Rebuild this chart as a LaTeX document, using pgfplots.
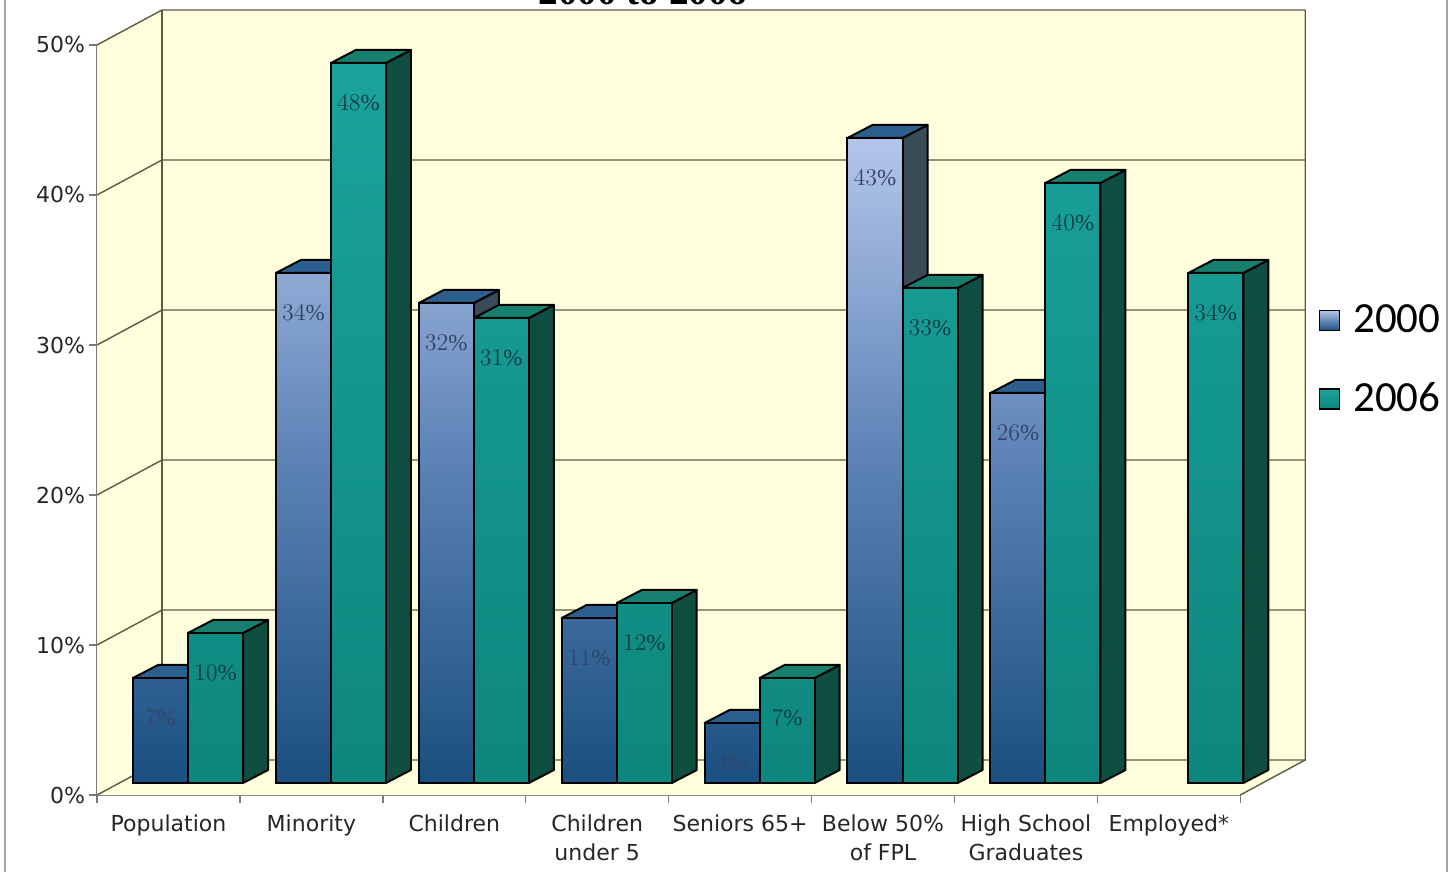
\documentclass[border=0pt]{standalone}
\usepackage{pgfplots}
\pgfplotsset{compat=1.18}
\usepackage{pgfplotstable}
\usepackage{fontspec}
\setmainfont{DejaVu Sans}
\newfontfamily\legendfont{Carlito}
\newfontfamily\valuefont{Liberation Serif}

\definecolor{wall}{HTML}{FFFFDE}
\definecolor{gridc}{HTML}{5B5B45}
\definecolor{frontax}{HTML}{7A7A7A}
\definecolor{aLight}{HTML}{B3C6EA}
\definecolor{aMid}{HTML}{5C82B6}
\definecolor{aDark}{HTML}{1A4F80}
\definecolor{aSide}{HTML}{3A4B58}
\definecolor{aTopc}{HTML}{2C5F8E}
\definecolor{bLight}{HTML}{1AA39B}
\definecolor{bDark}{HTML}{0D877D}
\definecolor{bSide}{HTML}{0E4F42}
\definecolor{bTopc}{HTML}{177F6E}
\definecolor{aLabel}{HTML}{33456A}
\definecolor{bLabel}{HTML}{0F3F45}

% Share of the county total, 2000 and 2006 (nan = not reported)
\pgfplotstableread{
idx a b
0 7 10
1 34 48
2 32 31
3 11 12
4 4 7
5 43 33
6 26 40
7 nan 34
}\rates

% bar width and depth of the bar boxes (axis units)
\def\bw{0.385}
\def\dpx{0.175}
\def\dpy{0.867}

\begin{document}
\begin{tikzpicture}
\begin{axis}[
  x=71.45pt, y=7.5pt,
  xmin=-0.6365, xmax=7.3635,
  ymin=-0.8, ymax=49.2,
  clip=false,
  axis x line*=bottom, axis y line*=left,
  axis line style={draw=frontax, line width=0.7pt},
  tick style={draw=frontax, line width=0.7pt},
  tick align=outside, major tick length=4pt,
  ytick={-0.8,9.2,19.2,29.2,39.2,49.2},
  yticklabels={0\%,10\%,20\%,30\%,40\%,50\%},
  yticklabel style={font=\fontsize{11}{13}\selectfont, text=black!85, xshift=1.5pt},
  xtick={-0.6365,0.3635,1.3635,2.3635,3.3635,4.3635,5.3635,6.3635,7.3635},
  xticklabels={},
  extra x ticks={-0.1365,0.8635,1.8635,2.8635,3.8635,4.8635,5.8635,6.8635},
  extra x tick labels={Population,Minority,Children,{Children\\under 5},Seniors 65+,{Below 50\%\\of FPL},{High School\\Graduates},Employed*},
  extra x tick style={major tick length=0pt, xticklabel style={align=center, font=\fontsize{11}{14.5}\selectfont, text=black!85, yshift=-6.5pt}},
  legend style={draw=none, fill=none, font=\legendfont\fontsize{21.5}{22}\selectfont,
    at={(1.063,0.580)}, anchor=west, row sep=19.5pt},
  legend cell align=left,
]
% floor, left wall and back wall
\fill[wall] (axis cs:-0.6365,-0.8) -- (axis cs:7.3635,-0.8) -- (axis cs:7.818,1.533) -- (axis cs:-0.182,1.533) -- cycle;
\fill[wall] (axis cs:-0.6365,-0.8) -- (axis cs:-0.6365,49.2) -- (axis cs:-0.182,51.533) -- (axis cs:-0.182,1.533) -- cycle;
\fill[wall] (axis cs:-0.182,1.533) rectangle (axis cs:7.818,51.533);
\pgfplotsinvokeforeach{0,10,20,30,40,50}{
  \draw[gridc, line width=0.7pt] (axis cs:-0.6365,#1-0.8) -- (axis cs:-0.182,#1+1.533) -- (axis cs:7.818,#1+1.533);
}
\draw[gridc, line width=0.7pt] (axis cs:-0.182,1.533) -- (axis cs:-0.182,51.533);
\draw[gridc, line width=0.7pt] (axis cs:7.818,51.533) -- (axis cs:7.818,1.533) -- (axis cs:7.3635,-0.8);
% outer frame
\draw[gray!70, line width=0.8pt] (axis cs:-1.2806,-6) -- (axis cs:-1.2806,53);
\draw[gray!70, line width=0.8pt] (axis cs:8.8104,-6) -- (axis cs:8.8104,53);
\node[font=\valuefont\bfseries\fontsize{19.6}{20}\selectfont, anchor=base] at (axis cs:3.184,51.87) {2000 to 2006};

% 2000: sides and tops of the boxes
\pgfplotsinvokeforeach{0,...,6}{%
  \pgfplotstablegetelem{#1}{a}\of\rates
  \pgfmathsetmacro\hv{\pgfplotsretval}%
  \pgfmathsetmacro\hl{#1-\bw}%
  \pgfmathsetmacro\hr{#1}%
  \pgfmathsetmacro\hrd{\hr+\dpx}%
  \pgfmathsetmacro\hld{\hl+\dpx}%
  \pgfmathsetmacro\hvd{\hv+\dpy}%
  \edef\faces{%
    \noexpand\addplot[forget plot, mark=none, draw=black, line width=1pt, line join=round, fill=aSide]
      coordinates {(\hr,0) (\hrd,\dpy) (\hrd,\hvd) (\hr,\hv)} -- cycle;
    \noexpand\addplot[forget plot, mark=none, draw=black, line width=1pt, line join=round, fill=aTopc]
      coordinates {(\hl,\hv) (\hr,\hv) (\hrd,\hvd) (\hld,\hvd)} -- cycle;
  }%
  \faces
}
% 2000: front faces
\addplot[ybar, bar width=\bw, bar shift=-0.1925, draw=black, line width=1pt,
  top color=aLight, bottom color=aDark, middle color=aMid,
  nodes near coords={\pgfmathprintnumber{\pgfplotspointmeta}\%},
  every node near coord/.append style={anchor=center, xshift=-13.75pt, yshift=-20pt, text=aLabel,
    font=\valuefont\fontsize{11.5}{12}\selectfont},
  legend image code/.code={\draw[black, line width=0.6pt, top color=aLight, bottom color=aDark] (0pt,-5pt) rectangle (10pt,5pt); \path (14.5pt,0pt);}
] table[x=idx, y=a] {\rates};
\addlegendentry{2000}

% 2006: sides and tops of the boxes
\pgfplotsinvokeforeach{0,...,7}{%
  \pgfplotstablegetelem{#1}{b}\of\rates
  \pgfmathsetmacro\hv{\pgfplotsretval}%
  \pgfmathsetmacro\hl{#1}%
  \pgfmathsetmacro\hr{#1+\bw}%
  \pgfmathsetmacro\hrd{\hr+\dpx}%
  \pgfmathsetmacro\hld{\hl+\dpx}%
  \pgfmathsetmacro\hvd{\hv+\dpy}%
  \edef\faces{%
    \noexpand\addplot[forget plot, mark=none, draw=black, line width=1pt, line join=round, fill=bSide]
      coordinates {(\hr,0) (\hrd,\dpy) (\hrd,\hvd) (\hr,\hv)} -- cycle;
    \noexpand\addplot[forget plot, mark=none, draw=black, line width=1pt, line join=round, fill=bTopc]
      coordinates {(\hl,\hv) (\hr,\hv) (\hrd,\hvd) (\hld,\hvd)} -- cycle;
  }%
  \faces
}
% 2006: front faces
\addplot[ybar, bar width=\bw, bar shift=0.1925, draw=black, line width=1pt,
  top color=bLight, bottom color=bDark,
  nodes near coords={\pgfmathprintnumber{\pgfplotspointmeta}\%},
  every node near coord/.append style={anchor=center, xshift=13.75pt, yshift=-20pt, text=bLabel,
    font=\valuefont\fontsize{11.5}{12}\selectfont},
  legend image code/.code={\draw[black, line width=0.6pt, top color=bLight, bottom color=bDark] (0pt,-5pt) rectangle (10pt,5pt); \path (14.5pt,0pt);}
] table[x=idx, y=b] {\rates};
\addlegendentry{2006}

\coordinate (bbsw) at (axis cs:-1.3156,-5.8667);
\coordinate (bbne) at (axis cs:8.8663,52.2);
\end{axis}
\pgfresetboundingbox
\path[use as bounding box] (bbsw) rectangle (bbne);
\end{tikzpicture}
\end{document}
